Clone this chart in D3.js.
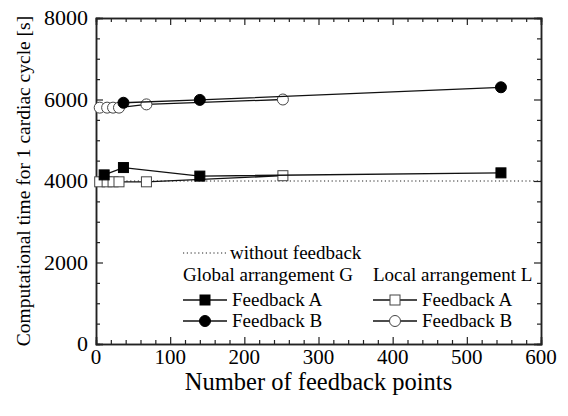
<!DOCTYPE html>
<html>
<head>
<meta charset="utf-8">
<script src="https://cdn.jsdelivr.net/npm/d3@7"></script>
<style>
svg text { font-family: "Liberation Serif", "Times New Roman", Times, serif !important; }
</style>
</head>
<body style="margin:0">
<script>
// feedback point counts and computation times [s]
var globalAX = [11, 37, 140, 546];
var globalAY = [4150, 4330, 4120, 4200];
var globalBX = [37, 140, 546];
var globalBY = [5920, 5990, 6300];
var localAX = [5, 15, 23, 31, 68, 252];
var localAY = [3980, 3980, 3980, 3980, 3980, 4130];
var localBX = [5, 15, 23, 31, 68, 252];
var localBY = [5800, 5800, 5800, 5800, 5880, 6000];
var baseline = 4000;
var xTicks = [0, 100, 200, 300, 400, 500, 600];
var yTicks = [0, 2000, 4000, 6000, 8000];

var width = 568, height = 416;
var margin = {top: 18, right: 27, bottom: 72, left: 96};
var W = width - margin.left - margin.right;
var H = height - margin.top - margin.bottom;

var svg = d3.select('body').append('svg')
	.attr('width', width).attr('height', height);
var g = svg.append('g')
	.attr('transform', 'translate(' + [margin.left, margin.top] + ')');

var x = d3.scaleLinear().domain([0, 600]).range([0, W]);
var y = d3.scaleLinear().domain([0, 8000]).range([H, 0]);

// axes with inward ticks on all four sides
function minor(scale, step, majors){
	return d3.range(scale.domain()[0], scale.domain()[1] + 1, step)
		.filter(function(v){ return majors.indexOf(v) < 0; });
}
var xMinor = minor(x, 20, xTicks), yMinor = minor(y, 500, yTicks);

function axisSet(axisFn, scale, majors, minors, tr){
	var a1 = g.append('g').attr('transform', tr)
		.call(axisFn(scale).tickValues(minors).tickSize(-4).tickFormat(''));
	var a2 = g.append('g').attr('transform', tr)
		.call(axisFn(scale).tickValues(majors).tickSize(-7).tickFormat(''));
	return [a1, a2];
}
var axes = [];
axes = axes.concat(axisSet(d3.axisBottom, x, xTicks, xMinor, 'translate(0,' + H + ')'));
axes = axes.concat(axisSet(d3.axisTop, x, xTicks, xMinor, 'translate(0,0)'));
axes = axes.concat(axisSet(d3.axisLeft, y, yTicks, yMinor, 'translate(0,0)'));
axes = axes.concat(axisSet(d3.axisRight, y, yTicks, yMinor, 'translate(' + W + ',0)'));
axes.forEach(function(a){
	a.select('.domain').attr('stroke', '#222').attr('stroke-width', 1.5);
	a.selectAll('.tick line').attr('stroke', '#222').attr('stroke-width', 1.2);
});

// tick labels
g.selectAll('.xlab').data(xTicks).enter().append('text')
	.attr('x', function(d){ return x(d); })
	.attr('y', H + 20)
	.attr('text-anchor', 'middle')
	.attr('font-size', 21)
	.text(function(d){ return d; });
g.selectAll('.ylab').data(yTicks).enter().append('text')
	.attr('x', -8)
	.attr('y', function(d){ return y(d) + 7; })
	.attr('text-anchor', 'end')
	.attr('font-size', 22)
	.text(function(d){ return d; });

// axis titles
svg.append('text')
	.attr('x', margin.left + W / 2).attr('y', 390)
	.attr('text-anchor', 'middle')
	.attr('font-size', 24.5)
	.text('Number of feedback points');
svg.append('text')
	.attr('transform', 'translate(30,' + (margin.top + H / 2) + ') rotate(-90)')
	.attr('text-anchor', 'middle')
	.attr('font-size', 19.5)
	.text('Computational time for 1 cardiac cycle [s]');

// baseline without feedback
g.append('line')
	.attr('x1', 0).attr('x2', W)
	.attr('y1', y(baseline)).attr('y2', y(baseline))
	.attr('stroke', '#222').attr('stroke-width', 1)
	.attr('stroke-dasharray', '1.2,2.6');

var line = d3.line()
	.x(function(d){ return x(d[0]); })
	.y(function(d){ return y(d[1]); });

var series = [
	{xs: localAX, ys: localAY, shape: 'square', fill: '#fff'},
	{xs: localBX, ys: localBY, shape: 'circle', fill: '#fff'},
	{xs: globalAX, ys: globalAY, shape: 'square', fill: '#000'},
	{xs: globalBX, ys: globalBY, shape: 'circle', fill: '#000'}
];

function drawMarker(sel, shape, fill){
	if(shape == 'square'){
		sel.append('rect')
			.attr('x', -5).attr('y', -5).attr('width', 10).attr('height', 10)
			.attr('fill', fill).attr('stroke', fill == '#000' ? '#000' : '#444')
			.attr('stroke-width', 1);
	} else {
		sel.append('circle')
			.attr('r', 5.5)
			.attr('fill', fill).attr('stroke', fill == '#000' ? '#000' : '#444')
			.attr('stroke-width', 1);
	}
}

series.forEach(function(s){
	var pts = s.xs.map(function(v, i){ return [v, s.ys[i]]; });
	g.append('path')
		.attr('d', line(pts))
		.attr('fill', 'none')
		.attr('stroke', '#111')
		.attr('stroke-width', 1.3);
	var m = g.selectAll(null).data(pts).enter().append('g')
		.attr('transform', function(d){ return 'translate(' + [x(d[0]), y(d[1])] + ')'; });
	drawMarker(m, s.shape, s.fill);
});

// legend
var leg = svg.append('g');
function legText(xx, yy, t){
	leg.append('text').attr('x', xx).attr('y', yy)
		.attr('font-size', 19)
		.text(t);
}
leg.append('line')
	.attr('x1', 183).attr('x2', 227).attr('y1', 253).attr('y2', 253)
	.attr('stroke', '#222').attr('stroke-dasharray', '1.2,2.6');
legText(230, 259, 'without feedback');
legText(183, 281, 'Global arrangement G');
legText(373, 281, 'Local arrangement L');

var legRows = [
	{x0: 183, yy: 300, shape: 'square', fill: '#000', label: 'Feedback A'},
	{x0: 183, yy: 321, shape: 'circle', fill: '#000', label: 'Feedback B'},
	{x0: 373, yy: 300, shape: 'square', fill: '#fff', label: 'Feedback A'},
	{x0: 373, yy: 321, shape: 'circle', fill: '#fff', label: 'Feedback B'}
];
legRows.forEach(function(r){
	leg.append('line')
		.attr('x1', r.x0).attr('x2', r.x0 + 44)
		.attr('y1', r.yy).attr('y2', r.yy)
		.attr('stroke', '#111').attr('stroke-width', 1.3);
	var m = leg.append('g').attr('transform', 'translate(' + [r.x0 + 22, r.yy] + ')');
	drawMarker(m, r.shape, r.fill);
	legText(r.x0 + 49, r.yy + 6, r.label);
});
</script>
</body>
</html>
